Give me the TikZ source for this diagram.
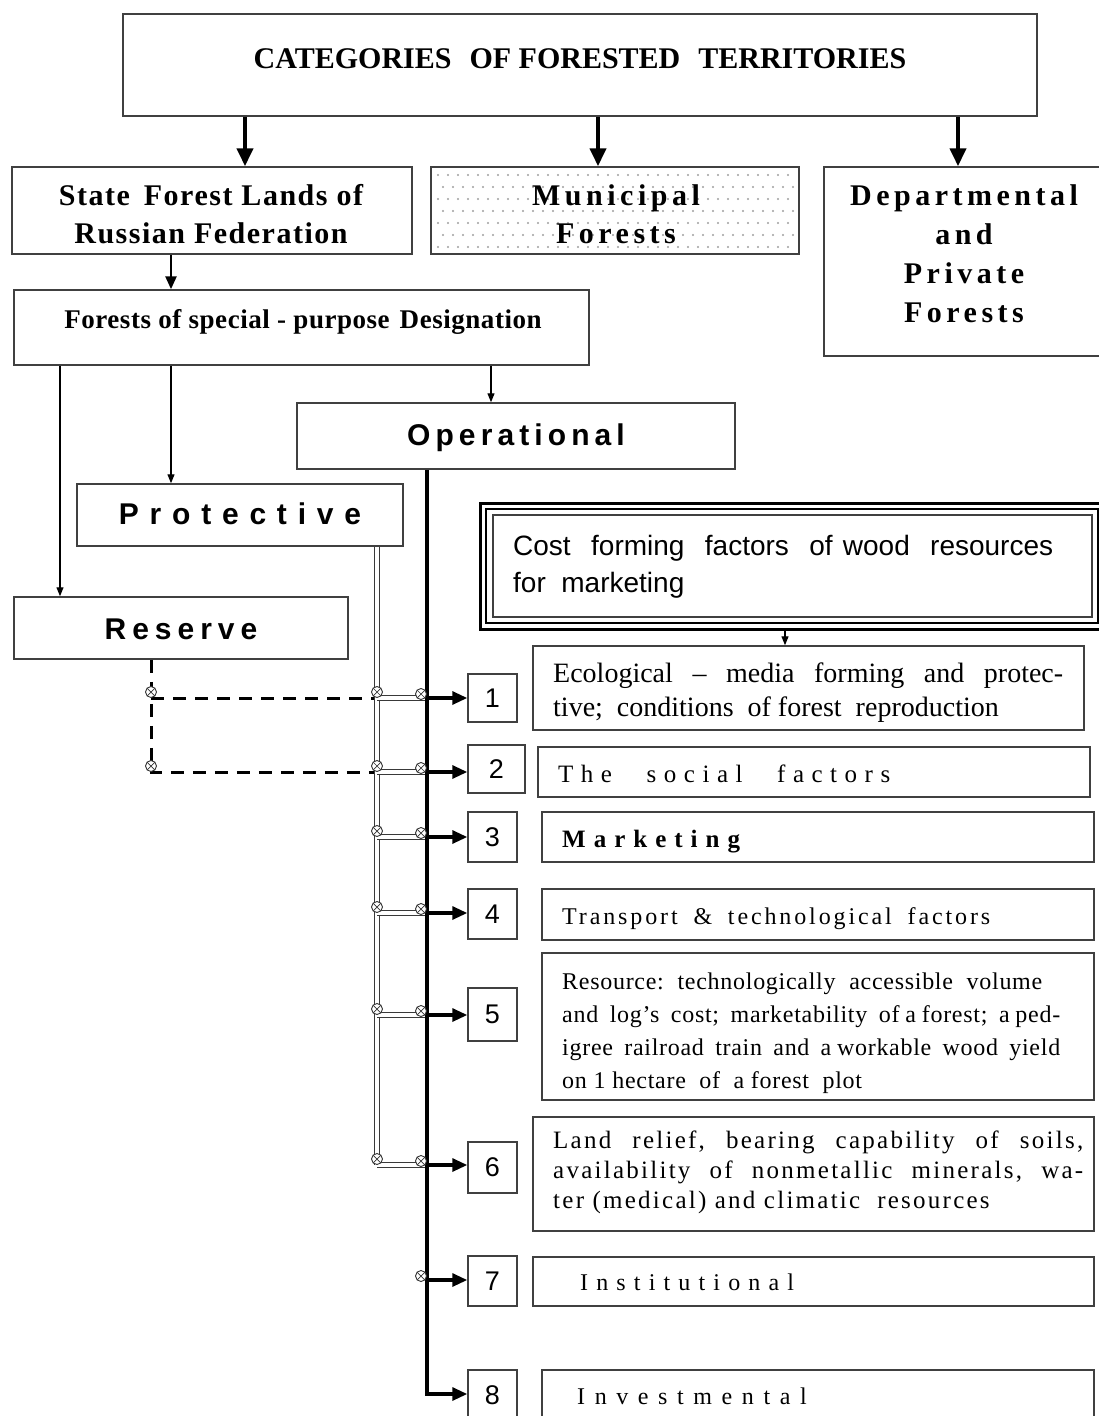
\documentclass[tikz,border=0pt]{standalone}
\usepackage{fontspec}
\setmainfont{Liberation Serif}
\newfontfamily\arialf{Liberation Sans}
\usetikzlibrary{arrows.meta}
\newcommand{\fsz}[2]{\fontsize{#1}{#2}\selectfont}
\newcommand{\lsp}[1]{\addfontfeature{LetterSpace=#1}}
\newcommand{\jl}[2]{\makebox[#1pt][s]{#2}}
\begin{document}
\begin{tikzpicture}[x=1pt,y=-1pt,
  frame/.style={draw=gray!50!black, line width=1.5pt, inner sep=0pt},
  txt/.style={inner sep=0pt, anchor=base west},
  ctxt/.style={inner sep=0pt, anchor=base},
  numbox/.style={frame, font=\arialf\fsz{27}{27}},
  bigarrow/.style={line width=4pt, -{Triangle[width=16pt,length=18pt]}},
  midarrow/.style={line width=2.6pt, -{Triangle[width=11pt,length=13pt]}},
  thinarrow/.style={line width=1.2pt, -{Triangle[width=7pt,length=9pt]}},
  rowarrow/.style={line width=3.2pt, -{Triangle[width=13pt,length=15pt]}},
  dbl/.style={draw=gray!45!black, line width=1pt, double=white, double distance=3.5pt},
  dashline/.style={line width=3pt, dash pattern=on 13pt off 9pt},
  xmarker/.style={circle, draw=gray!40!black, fill=white, line width=0.9pt, minimum size=11pt, inner sep=0pt,
    path picture={\draw[gray!40!black, line width=0.7pt]
      (path picture bounding box.south west) -- (path picture bounding box.north east)
      (path picture bounding box.north west) -- (path picture bounding box.south east);}}
]
\useasboundingbox (0,0) rectangle (1098,1416);
\fill[white] (0,0) rectangle (1098,1416);

% ---------- helper coordinates ----------
\coordinate (xa) at (245,0);
\coordinate (xm) at (598,0);
\coordinate (xr) at (958,0);
\coordinate (xb) at (60,0);
\coordinate (xc) at (171,0);
\coordinate (xd) at (491,0);
\coordinate (xe) at (785,0);
\coordinate (rs) at (151,0);
\coordinate (pr) at (377,0);
\coordinate (op) at (427,0);
\coordinate (r1) at (0,698);
\coordinate (r2) at (0,772);
\coordinate (r3) at (0,837);
\coordinate (r4) at (0,913);
\coordinate (r5) at (0,1015);
\coordinate (r6) at (0,1165);
\coordinate (r7) at (0,1280);
\coordinate (r8) at (0,1394);

% ---------- top level boxes ----------
\node[frame, minimum width=914pt, minimum height=102pt] (title) at (580,65) {};
\node[ctxt, font=\bfseries\fsz{30}{30}] (ttitle) at (580,68)
  {CATEGORIES\hspace{18pt}OF FORESTED\hspace{18pt}TERRITORIES};

\node[frame, minimum width=400pt, minimum height=87pt] (state) at (212,210.5) {};
\node[ctxt, font=\bfseries\fsz{30}{38}\lsp{5}] (tstate) at (211,205)
  {\parbox[t]{400pt}{\centering State\hspace{14pt}Forest Lands of\\Russian Federation}};

\node[frame, minimum width=368pt, minimum height=87pt] (muni) at (615,210.5) {};
\foreach \i in {0,...,35} \foreach \j in {0,...,6}
  {\fill[gray!75] ({438+\i*10+mod(\j,2)*5},{175+\j*12}) circle (1.1pt);}
\node[ctxt, font=\bfseries\fsz{30}{38}\lsp{15}] (tmuni) at (616,205)
  {\parbox[t]{360pt}{\centering Municipal\\Forests}};

\node[frame, minimum width=282pt, minimum height=189pt] (dept) at (965,261.5) {};
\node[ctxt, font=\bfseries\fsz{30}{39}\lsp{15}] (tdept) at (964,205)
  {\parbox[t]{280pt}{\centering Departmental\\and\\Private\\Forests}};

\node[frame, minimum width=575pt, minimum height=75pt] (special) at (301.5,327.5) {};
\node[ctxt, font=\bfseries\fsz{27}{27}\lsp{2}] (tspecial) at (303,328)
  {Forests of special - purpose\hspace{10pt}Designation};

\node[frame, minimum width=438pt, minimum height=66pt] (oper) at (516,436) {};
\node[ctxt, font=\arialf\bfseries\fsz{30}{30}\lsp{17}] (toper) at (516,445) {Operational};

\node[frame, minimum width=326pt, minimum height=62pt] (prot) at (240,515) {};
\node[ctxt, font=\arialf\bfseries\fsz{30}{30}\lsp{36}] (tprot) at (240,524) {Protective};

\node[frame, minimum width=334pt, minimum height=62pt] (reserve) at (181,628) {};
\node[ctxt, font=\arialf\bfseries\fsz{30}{30}\lsp{20}] (treserve) at (181,639) {Reserve};

% ---------- cost forming box (triple frame) ----------
\node[draw=black, line width=3pt, inner sep=0pt, minimum width=624pt, minimum height=126pt] (costA) at (792,566) {};
\node[draw=black, line width=2pt, inner sep=0pt, minimum width=612pt, minimum height=114pt] (costB) at (792,566) {};
\node[frame, line width=1.3pt, minimum width=599pt, minimum height=102pt] (costC) at (792.5,566) {};
\node[txt, font=\arialf\fsz{28}{37}] (tcost) at (513,555)
  {\parbox[t]{560pt}{\jl{540}{Cost\ \ forming\ \ factors\ \ of wood\ \ resources}\\for\ \ marketing}};

% ---------- number boxes ----------
\node[numbox, minimum width=49pt, minimum height=48pt] (n1) at (492.5,698) {1};
\node[numbox, minimum width=57pt, minimum height=48pt] (n2) at (496.5,769) {2};
\node[numbox, minimum width=49pt, minimum height=50pt] (n3) at (492.5,837) {3};
\node[numbox, minimum width=49pt, minimum height=50pt] (n4) at (492.5,914) {4};
\node[numbox, minimum width=49pt, minimum height=53pt] (n5) at (492.5,1014.5) {5};
\node[numbox, minimum width=49pt, minimum height=51pt] (n6) at (492.5,1167.5) {6};
\node[numbox, minimum width=49pt, minimum height=50pt] (n7) at (492.5,1281) {7};
\node[frame, minimum width=49pt, minimum height=60pt] (n8) at (492.5,1400) {};
\node[ctxt, font=\arialf\fsz{27}{27}] (t8) at (492.5,1404) {8};

% ---------- factor boxes ----------
\node[frame, minimum width=551pt, minimum height=84pt] (f1) at (808.5,688) {};
\node[txt, font=\fsz{28}{34}] (tf1) at (553,682)
  {\parbox[t]{540pt}{\jl{510}{Ecological\ \ --\ \ media\ \ forming\ \ and\ \ protec-}\\
   tive;\ \ conditions\ \ of forest\ \ reproduction}};

\node[frame, minimum width=552pt, minimum height=50pt] (f2) at (814,772) {};
\node[txt, font=\fsz{25}{25}\lsp{30}] (tf2) at (558,782) {\jl{332}{The\ \ social\ \ factors}};

\node[frame, minimum width=552pt, minimum height=50pt] (f3) at (818,837) {};
\node[txt, font=\bfseries\fsz{25}{25}\lsp{32}] (tf3) at (562,847) {Marketing};

\node[frame, minimum width=552pt, minimum height=51pt] (f4) at (818,914.5) {};
\node[txt, font=\fsz{24}{24}\lsp{12}] (tf4) at (562,924) {\jl{428}{Transport\ \ \&\ \ technological\ \ factors}};

\node[frame, minimum width=552pt, minimum height=147pt] (f5) at (818,1026.5) {};
\node[txt, font=\fsz{24}{33}\lsp{3}] (tf5) at (562,989)
  {\parbox[t]{520pt}{\jl{480}{Resource:\ \ technologically\ \ accessible\ \ volume}\\
   \jl{498}{and\ \ log's\ \ cost;\ \ marketability\ \ of a forest;\ \ a ped-}\\
   \jl{498}{igree\ \ railroad\ \ train\ \ and\ \ a workable\ \ wood\ \ yield}\\
   on 1 hectare\ \ of\ \ a forest\ \ plot}};

\node[frame, minimum width=561pt, minimum height=114pt] (f6) at (813.5,1174) {};
\node[txt, font=\fsz{25}{30}\lsp{9}] (tf6) at (553,1148)
  {\parbox[t]{540pt}{\jl{530}{Land\ \ relief,\ \ bearing\ \ capability\ \ of\ \ soils,}\\
   \jl{530}{availability\ \ of\ \ nonmetallic\ \ minerals,\ \ wa-}\\
   ter (medical) and climatic\ \ resources}};

\node[frame, minimum width=561pt, minimum height=49pt] (f7) at (813.5,1281.5) {};
\node[txt, font=\fsz{24}{24}\lsp{34}] (tf7) at (580,1290) {Institutional};

\node[frame, minimum width=552pt, minimum height=60pt] (f8) at (818,1400) {};
\node[txt, font=\fsz{24}{24}\lsp{40}] (tf8) at (577,1404) {Investmental};

% ---------- connectors ----------
\draw[bigarrow] (title.south -| xa) -- (state.north -| xa);
\draw[bigarrow] (title.south -| xm) -- (muni.north -| xm);
\draw[bigarrow] (title.south -| xr) -- (dept.north -| xr);
\draw[midarrow] (state.south -| xc) -- (special.north -| xc);
\draw[thinarrow] (special.south -| xb) -- (reserve.north -| xb);
\draw[thinarrow] (special.south -| xc) -- (prot.north -| xc);
\draw[thinarrow] (special.south -| xd) -- (oper.north -| xd);
\draw[thinarrow] (costA.south -| xe) -- (f1.north -| xe);

% reserve (dashed)
\draw[dashline] (reserve.south -| rs) |- (r2 -| pr);
\draw[dashline] (r1 -| rs) -- (r1 -| pr);

% protective (double line)
\draw[dbl] (prot.south -| pr) -- (r6 -| pr);
\foreach \k in {1,...,6} {\draw[dbl] (r\k -| pr) -- (r\k -| op);}

% operational (thick line)
\draw[rowarrow] (oper.south -| op) |- (r8 -| n8.west);
\draw[rowarrow] (r1 -| op) -- (r1 -| n1.west);
\draw[rowarrow] (r2 -| op) -- (r2 -| n2.west);
\draw[rowarrow] (r3 -| op) -- (r3 -| n3.west);
\draw[rowarrow] (r4 -| op) -- (r4 -| n4.west);
\draw[rowarrow] (r5 -| op) -- (r5 -| n5.west);
\draw[rowarrow] (r6 -| op) -- (r6 -| n6.west);
\draw[rowarrow] (r7 -| op) -- (r7 -| n7.west);

% junction markers
\node[xmarker] (mr1) at (151,692) {};
\node[xmarker] (mr2) at (151,766) {};
\foreach \k/\y in {1/698,2/772,3/837,4/913,5/1015,6/1165}
  {\node[xmarker] (mp\k) at (377,\y-6) {};}
\foreach \k/\y in {1/698,2/772,3/837,4/913,5/1015,6/1165,7/1280}
  {\node[xmarker] (mo\k) at (421,\y-4) {};}
\end{tikzpicture}
\end{document}
